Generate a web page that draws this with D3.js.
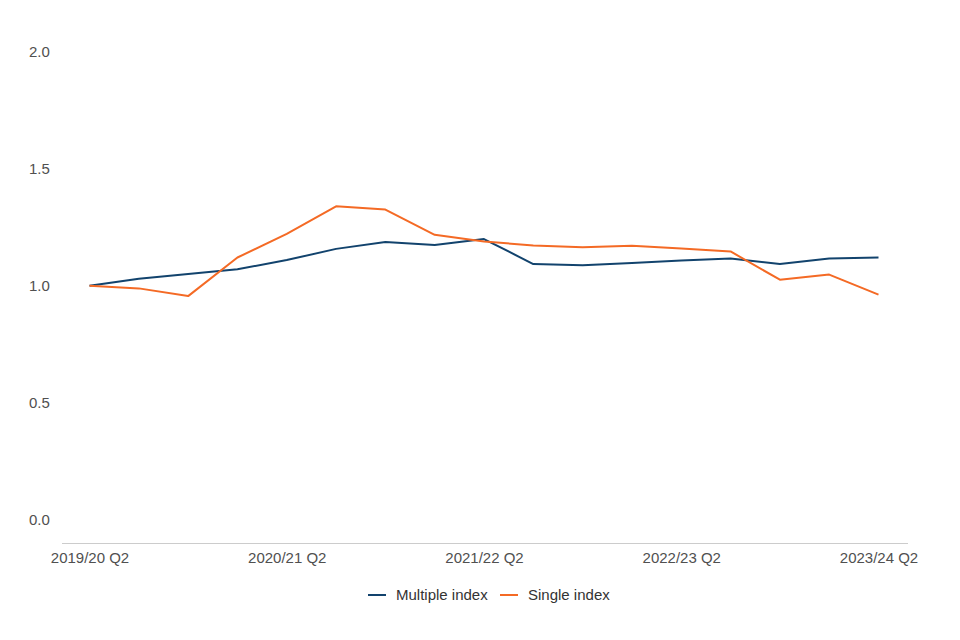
<!DOCTYPE html>
<html>
<head>
<meta charset="utf-8">
<script src="https://cdn.jsdelivr.net/npm/d3@7"></script>
<style>
  body { margin: 0; background: #fff; }
  text { font-family: "Liberation Sans", Arial, sans-serif; }
</style>
</head>
<body>
<svg id="chart" width="960" height="640"></svg>
<script>
// quarters along the x axis
const quarters = [
  "2019/20 Q2", "2019/20 Q3", "2019/20 Q4", "2020/21 Q1",
  "2020/21 Q2", "2020/21 Q3", "2020/21 Q4", "2021/22 Q1",
  "2021/22 Q2", "2021/22 Q3", "2021/22 Q4", "2022/23 Q1",
  "2022/23 Q2", "2022/23 Q3", "2022/23 Q4", "2023/24 Q1",
  "2023/24 Q2"
];
const multipleIndex = [1.0, 1.03, 1.05, 1.071, 1.11, 1.158, 1.187, 1.175, 1.2,
  1.093, 1.088, 1.098, 1.108, 1.117, 1.093, 1.117, 1.121];
const singleIndex = [1.0, 0.989, 0.956, 1.121, 1.222, 1.34, 1.326, 1.218, 1.19,
  1.172, 1.165, 1.171, 1.16, 1.147, 1.026, 1.048, 0.962];
const xTickLabels = ["2019/20 Q2", "2020/21 Q2", "2021/22 Q2", "2022/23 Q2", "2023/24 Q2"];
const yTicks = [0, 0.5, 1.0, 1.5, 2.0];

const series = [
  { name: "Multiple index", values: multipleIndex, color: "#12436D" },
  { name: "Single index", values: singleIndex, color: "#F46A25" }
];

const svg = d3.select("#chart");

const x = d3.scalePoint().domain(quarters).range([89.5, 878.5]);
const y = d3.scaleLinear().domain([-0.1, 2.0]).range([543, 52]);

// y labels (no axis line, no gridlines)
svg.append("g")
  .selectAll("text")
  .data(yTicks)
  .join("text")
  .attr("x", 29)
  .attr("y", (d) => y(d))
  .attr("dy", "0.35em")
  .attr("font-size", 15)
  .attr("fill", "#505050")
  .text((d) => d3.format(".1f")(d));

// x axis
const xAxis = svg.append("g")
  .attr("transform", `translate(0, ${y(-0.1)})`)
  .call(d3.axisBottom(x).tickValues(xTickLabels).tickSize(0).tickPadding(9));
xAxis.select(".domain").attr("stroke", "#ccc").attr("d", "M62,0.5H908");
xAxis.selectAll("text")
  .attr("font-size", 15)
  .attr("fill", "#505050")
  .attr("font-family", "Liberation Sans, Arial, sans-serif");

// lines
const line = d3.line()
  .x((d, i) => x(quarters[i]))
  .y((d) => y(d));

svg.append("g")
  .selectAll("path")
  .data(series)
  .join("path")
  .attr("d", (d) => line(d.values))
  .attr("fill", "none")
  .attr("stroke", (d) => d.color)
  .attr("stroke-width", 2)
  .attr("stroke-linejoin", "round");

// legend
const legendX = [368, 500];
const legend = svg.append("g")
  .selectAll("g")
  .data(series)
  .join("g")
  .attr("transform", (d, i) => `translate(${legendX[i]}, 595)`);

legend.append("line")
  .attr("x1", 0).attr("x2", 18)
  .attr("stroke", (d) => d.color)
  .attr("stroke-width", 2);

legend.append("text")
  .attr("x", 28)
  .attr("dy", "0.35em")
  .attr("font-size", 15)
  .attr("fill", "#333")
  .text((d) => d.name);
</script>
</body>
</html>
